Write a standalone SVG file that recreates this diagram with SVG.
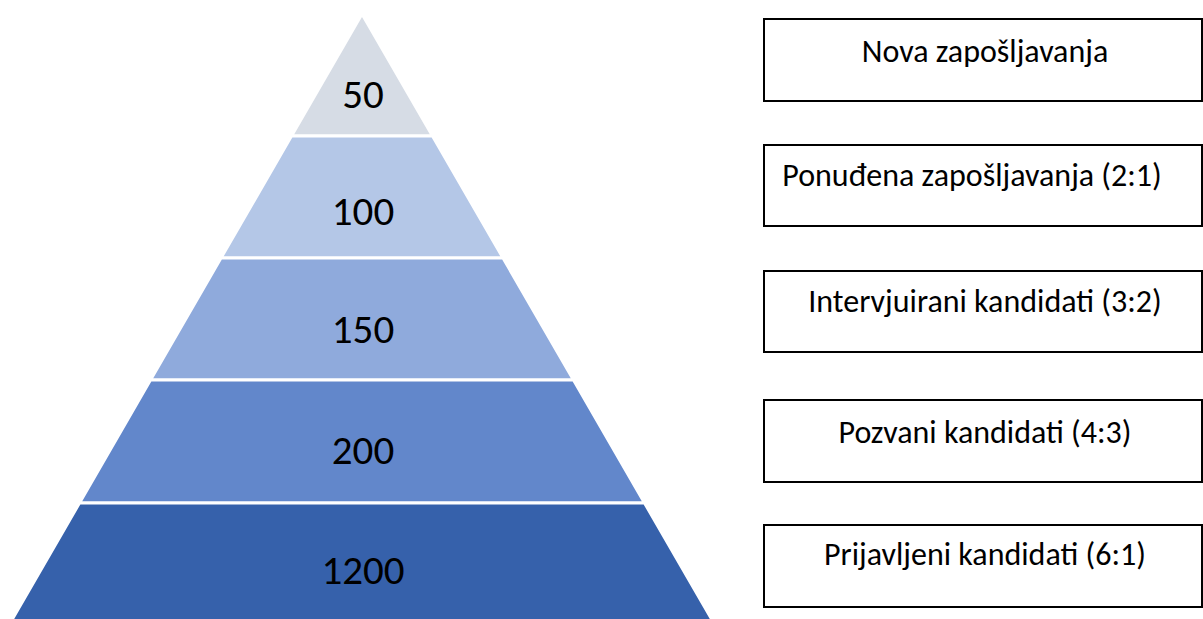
<svg xmlns="http://www.w3.org/2000/svg" width="1203" height="619" viewBox="0 0 1203 619">
<style>
.num{font-family:Carlito,Lato,"Liberation Sans",sans-serif;font-size:41px;fill:#000;text-anchor:middle}
.lbl{font-family:Carlito,Lato,"Liberation Sans",sans-serif;font-size:32px;fill:#000;text-anchor:middle}
.box{fill:#fff;stroke:#000;stroke-width:2}
.tier{stroke:#fff;stroke-width:3}
</style>
<rect width="1203" height="619" fill="#fff"/>
<g id="tier1"><polygon class="tier" points="362,14 432.5,136 291.5,136" fill="#D6DCE5"/><text class="num" x="363" y="108">50</text></g>
<g id="tier2"><polygon class="tier" points="291.5,136 432.5,136 503,258 221,258" fill="#B4C7E7"/><text class="num" x="363" y="225">100</text></g>
<g id="tier3"><polygon class="tier" points="221,258 503,258 573.5,380 150.5,380" fill="#8FAADC"/><text class="num" x="363" y="343">150</text></g>
<g id="tier4"><polygon class="tier" points="150.5,380 573.5,380 644.5,503 79.5,503" fill="#6287CB"/><text class="num" x="363" y="464">200</text></g>
<g id="tier5"><polygon class="tier" points="79.5,503 644.5,503 715,625 9,625" fill="#3661AB"/><text class="num" x="363" y="584">1200</text></g>
<g id="box1"><rect class="box" x="764" y="19" width="438" height="82"/><text class="lbl" x="985" y="62">Nova zapošljavanja</text></g>
<g id="box2"><rect class="box" x="764" y="145" width="438" height="81"/><text class="lbl" x="972" y="186">Ponuđena zapošljavanja (2:1)</text></g>
<g id="box3"><rect class="box" x="764" y="271" width="438" height="81"/><text class="lbl" x="985" y="312">Intervjuirani kandidati (3:2)</text></g>
<g id="box4"><rect class="box" x="764" y="400" width="438" height="82"/><text class="lbl" x="985" y="443">Pozvani kandidati (4:3)</text></g>
<g id="box5"><rect class="box" x="764" y="525" width="438" height="82"/><text class="lbl" x="985" y="565">Prijavljeni kandidati (6:1)</text></g>
<g id="connectors"></g>
</svg>
